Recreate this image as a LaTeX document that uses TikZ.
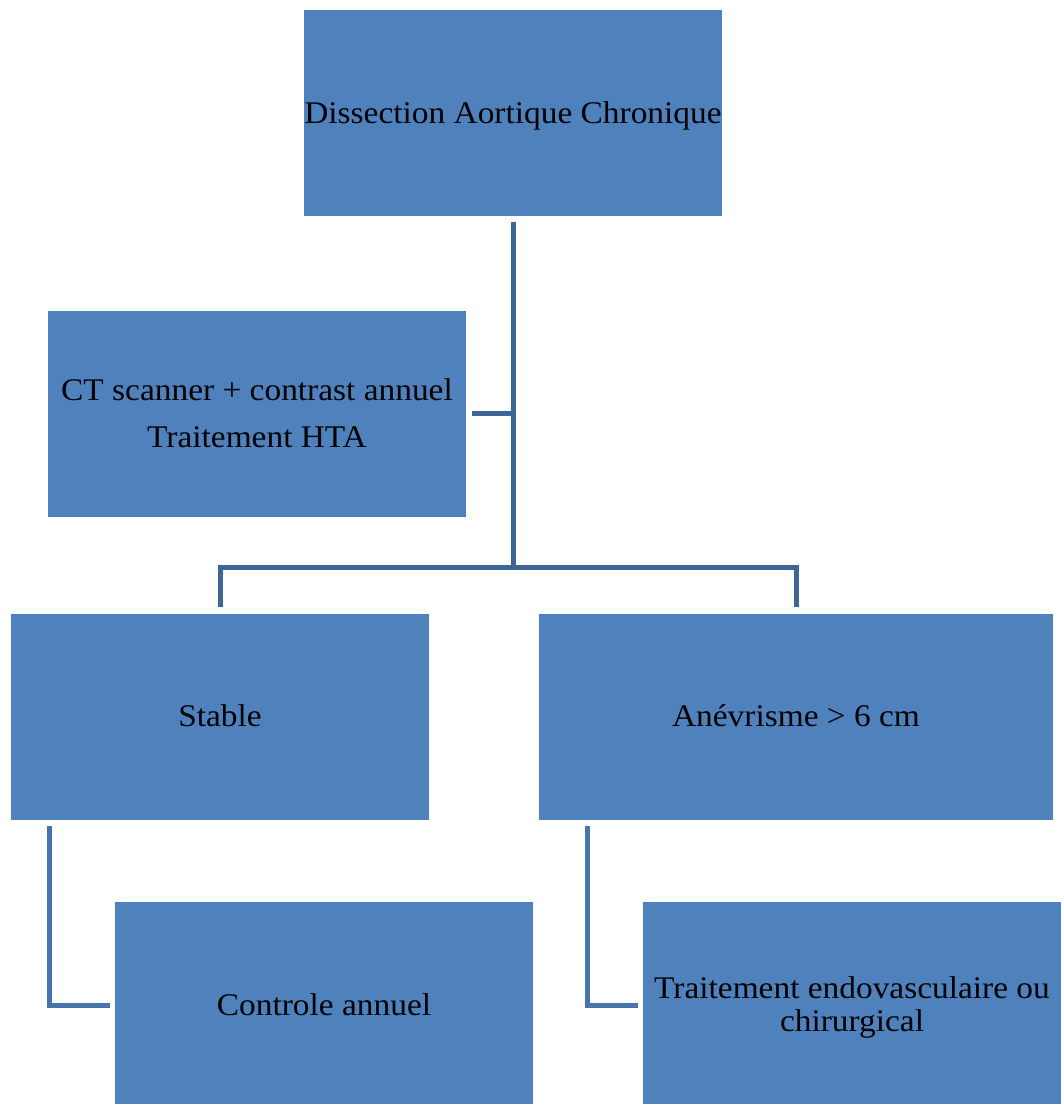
\documentclass[tikz,border=0pt]{standalone}
\usepackage{fontspec}
\setmainfont{Liberation Serif}[FakeStretch=1.06]
\definecolor{boxblue}{HTML}{4F81BD}
\definecolor{treeline}{HTML}{3D6696}
\definecolor{leafline}{HTML}{4874AE}
\tikzset{
  box/.style={rectangle, fill=boxblue, draw=none, inner sep=0pt,
              minimum width=418pt, minimum height=206pt},
  txt/.style={anchor=base, inner sep=0pt, text=black,
              font=\fontsize{31.5}{38}\selectfont},
  tree/.style={draw=treeline, line width=5pt},
  leaf/.style={draw=leafline, line width=5pt}
}
\begin{document}
\begin{tikzpicture}[x=1pt,y=-1pt]
\useasboundingbox (0,0) rectangle (1061,1104);
\clip (0,0) rectangle (1061,1104);
\fill[white] (0,0) rectangle (1061,1104);
% boxes
\node[box] (top) at (513,113) {};
\node[box] (ct) at (257,414) {};
\node[box] (stable) at (220,716.5) {};
\node[box, minimum width=514pt] (anev) at (796,716.5) {};
\node[box] (ctrl) at (324,1005) {};
\node[box] (trt) at (852,1005) {};
% texts
\node[txt] (ttop) at ([yshift=-10.5pt]top.center) {Dissection Aortique Chronique};
\node[txt] (tct1) at ([yshift=13.5pt]ct.center) {CT scanner + contrast annuel};
\node[txt] (tct2) at ([yshift=-33pt]ct.center) {Traitement HTA};
\node[txt] (tstable) at ([yshift=-10pt]stable.center) {Stable};
\node[txt] (tanev) at ([yshift=-10pt]anev.center) {Anévrisme > 6 cm};
\node[txt] (tctrl) at ([yshift=-10.5pt]ctrl.center) {Controle annuel};
\node[txt] (ttrt1) at ([yshift=7pt]trt.center) {Traitement endovasculaire ou};
\node[txt] (ttrt2) at ([yshift=-26pt]trt.center) {chirurgical};
% connectors
\coordinate (j1) at (513,413);
\coordinate (j2) at (513,567);
\draw[tree] ([yshift=-6pt]top.south) -- (j2);
\draw[tree] ([xshift=6pt]ct.east |- j1) -- (j1);
\draw[tree] ([yshift=6pt]stable.north) |- (j2) -| ([yshift=6pt]anev.north);
\draw[leaf] ([xshift=39pt,yshift=-6pt]stable.south west) |- ([xshift=-5pt]ctrl.west);
\draw[leaf] ([xshift=49pt,yshift=-6pt]anev.south west) |- ([xshift=-5pt]trt.west);
\end{tikzpicture}
\end{document}
